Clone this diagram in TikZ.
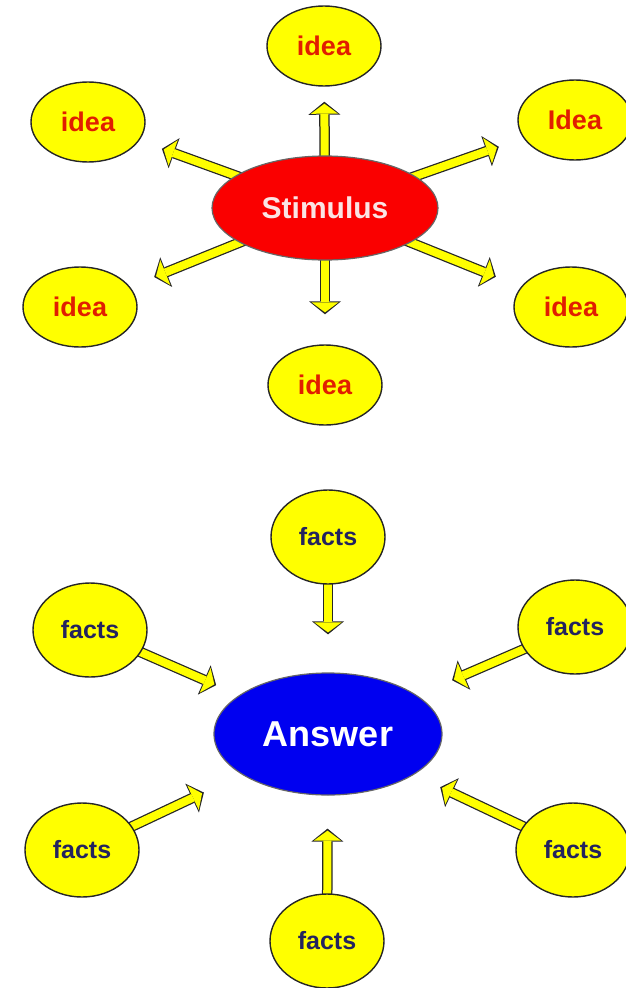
\documentclass[tikz,border=0pt]{standalone}
\usepackage{fontspec}
\setmainfont{Liberation Sans}
\usetikzlibrary{shapes.geometric, arrows.meta, backgrounds}
\definecolor{ideayellow}{RGB}{255,255,0}
\definecolor{stimred}{RGB}{250,0,0}
\definecolor{ansblue}{RGB}{0,0,240}
\definecolor{ideared}{RGB}{225,30,0}
\definecolor{factnavy}{RGB}{35,35,95}
\definecolor{stimtext}{RGB}{250,228,228}
\tikzstyle{idea} = [ellipse, minimum width=114pt, minimum height=80pt, inner sep=0pt, draw=black!85, line width=1.4pt, fill=ideayellow, text=ideared, font=\bfseries\fontsize{27}{30}\selectfont]
\tikzstyle{fact} = [ellipse, minimum width=114pt, minimum height=94pt, inner sep=0pt, draw=black!85, line width=1.4pt, fill=ideayellow, text=factnavy, font=\bfseries\fontsize{25}{28}\selectfont]
\tikzstyle{stimulus} = [ellipse, minimum width=226pt, minimum height=104pt, inner sep=0pt, draw=black!60, line width=1.2pt, fill=stimred, text=stimtext, font=\bfseries\fontsize{30}{33}\selectfont]
\tikzstyle{answer} = [ellipse, minimum width=228pt, minimum height=122pt, inner sep=0pt, draw=black!60, line width=1.2pt, fill=ansblue, text=white, font=\bfseries\fontsize{36}{40}\selectfont]
\tikzset{arrow/.style={line width=8pt, draw=ideayellow, -{Triangle[length=10pt,width=27pt,line width=0pt]}, shorten >=#1+2pt, preaction={draw=black!85, line width=10.5pt, -{Triangle[length=13pt,width=32pt,line width=0pt]}, shorten >=#1}}}

\begin{document}
\begin{tikzpicture}[x=1pt, y=-1pt]
\useasboundingbox (0,0) rectangle (626,988);

\node[stimulus] (stim) at (325,208) {Stimulus};
\node[idea] (i1) at (324,46) {idea};
\node[idea] (i2) at (88,122) {idea};
\node[idea] (i3) at (575,120) {Idea};
\node[idea] (i4) at (80,307) {idea};
\node[idea] (i5) at (571,307) {idea};
\node[idea] (i6) at (325,385) {idea};

\node[answer] (ans) at (328,734) {Answer};
\node[fact] (f1) at (328,537) {facts};
\node[fact] (f2) at (90,630) {facts};
\node[fact] (f3) at (575,627) {facts};
\node[fact] (f4) at (82,850) {facts};
\node[fact] (f5) at (573,850) {facts};
\node[fact] (f6) at (327,941) {facts};

\begin{scope}[on background layer]
\draw[arrow=15pt] (stim.center) -- (i1);
\draw[arrow=24pt] (stim.center) -- (i2);
\draw[arrow=26pt] (stim.center) -- (i3);
\draw[arrow=26pt] (stim.center) -- (i4);
\draw[arrow=27pt] (stim.center) -- (i5);
\draw[arrow=30pt] (stim.center) -- (i6);

\draw[arrow=38pt] (f1.center) -- (ans);
\draw[arrow=25pt] (f2.center) -- (ans);
\draw[arrow=38pt] (f3.center) -- (ans);
\draw[arrow=42pt] (f4.center) -- (ans);
\draw[arrow=29pt] (f5.center) -- (ans);
\draw[arrow=33pt] (f6.center) -- (ans);
\end{scope}

\end{tikzpicture}
\end{document}
